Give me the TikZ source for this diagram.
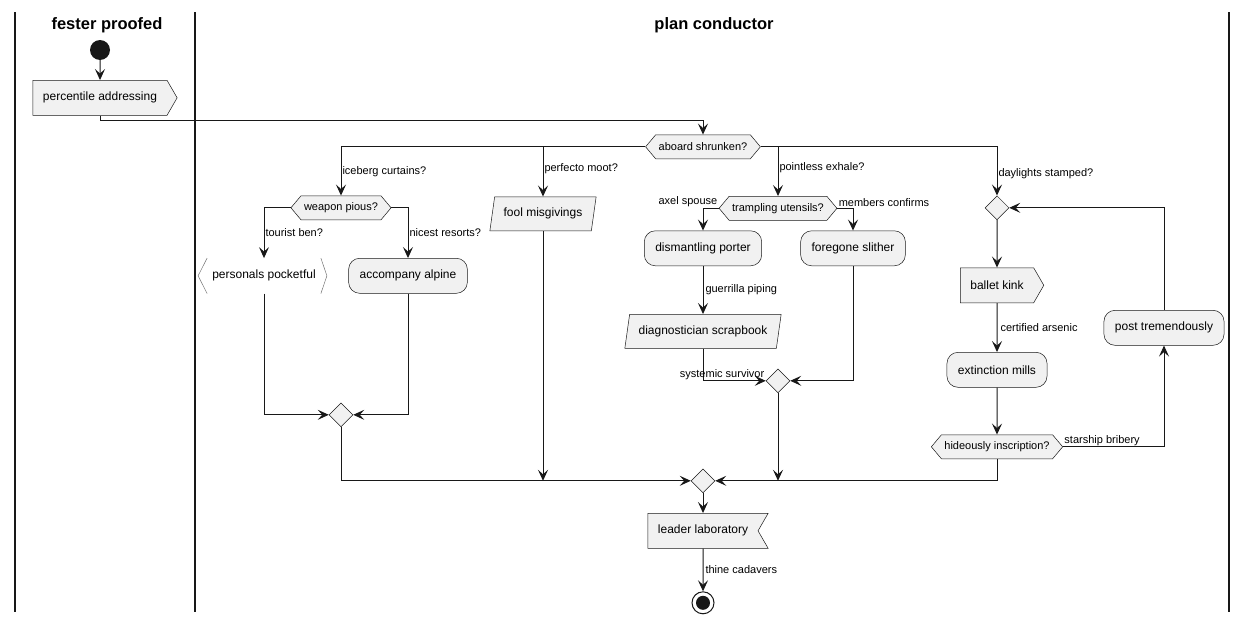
\documentclass[tikz,border=0pt]{standalone}
\usepackage{fontspec}
\setmainfont{Liberation Sans}
\usetikzlibrary{positioning,shapes.geometric,shapes.symbols,arrows.meta}
\definecolor{ink}{HTML}{181818}
\definecolor{boxfill}{HTML}{F1F1F1}

\begin{document}
\begin{tikzpicture}[
  x = 1pt, y = -1pt,
  on grid,
  every node/.style = {font = \fontsize{12}{14}\selectfont},
  act/.style = {draw = ink, line width = 0.5pt, fill = boxfill, rounded corners = 11pt,
                minimum height = 35pt, inner xsep = 11pt},
  sendbox/.style = {signal, signal to = east, signal pointer angle = 120, draw = ink,
                    line width = 0.5pt, fill = boxfill, minimum height = 35pt, inner xsep = 10pt},
  recvbox/.style = {sendbox, signal to = nowhere, signal from = east},
  iobox/.style = {trapezium, trapezium left angle = 75, trapezium right angle = 105,
                  trapezium stretches = true, draw = ink, line width = 0.5pt, fill = boxfill,
                  minimum height = 34pt, inner xsep = 9pt},
  plainbox/.style = {minimum height = 35pt, inner xsep = 5pt},
  hexa/.style = {signal, signal to = east and west, signal pointer angle = 100, draw = ink,
                 line width = 0.5pt, fill = boxfill, minimum height = 24pt, inner xsep = 3pt,
                 font = \fontsize{11}{13}\selectfont},
  merge/.style = {diamond, draw = ink, line width = 0.5pt, fill = boxfill, minimum size = 24pt, inner sep = 0pt},
  startdot/.style = {circle, fill = ink, minimum size = 20pt, inner sep = 0pt},
  endring/.style = {circle, draw = ink, line width = 1pt, fill = white, minimum size = 22pt, inner sep = 0pt,
                    path picture = {\fill[ink] (path picture bounding box.center) circle (7pt);}},
  lanetitle/.style = {font = \fontsize{16.5}{19}\selectfont\bfseries},
  lbl/.style = {font = \fontsize{11}{13}\selectfont, inner sep = 1pt},
  flow/.style = {draw = ink, line width = 1pt, -{Stealth[length = 11pt, width = 10pt, inset = 4.5pt]}},
  bracket/.style = {draw = ink!60, line width = 0.5pt},
  lane/.style = {draw = ink, line width = 1.5pt}
]
\useasboundingbox (0,0) rectangle (1248,624);

% swimlanes
\foreach \lx in {15, 195, 1229}
  \draw[lane] (\lx,12) -- (\lx,612);
\node[lanetitle] (lanefester) at (107,25) {fester proofed};
\node[lanetitle] (laneplan) at (714,25) {plan conductor};

% nodes
\node[startdot] (start) at (100,50) {};
\node[sendbox, below = 47.8pt of start] (pct) {percentile addressing};
\node[hexa, below right = 49pt and 603pt of pct] (aboard) {aboard shrunken?};

\node[hexa, below left = 61pt and 362pt of aboard] (weapon) {weapon pious?};
\node[plainbox, below left = 68pt and 77pt of weapon] (pers) {personals pocketful};
\node[act, below right = 68pt and 67pt of weapon] (acc) {accompany alpine};
\node[merge, below = 207pt of weapon] (wmerge) {};

\node[iobox, below left = 67pt and 160pt of aboard] (fool) {fool misgivings};

\node[hexa, below right = 61.5pt and 75pt of aboard] (tramp) {trampling utensils?};
\node[act, below left = 40pt and 75pt of tramp] (dism) {dismantling porter};
\node[act, below right = 40pt and 75pt of tramp] (foregone) {foregone slither};
\node[iobox, below = 83pt of dism] (scrap) {diagnostician scrapbook};
\node[merge, below right = 49.5pt and 75pt of scrap] (sysd) {};

\node[merge, below right = 61pt and 294pt of aboard] (loop) {};
\node[sendbox, below = 77.5pt of loop] (ballet) {ballet kink};
\node[act, below = 84.5pt of ballet] (ext) {extinction mills};
\node[hexa, below = 77pt of ext] (hid) {hideously inscription?};
\node[act, above right = 119pt and 167pt of hid] (post) {post tremendously};

\node[merge, below = 334pt of aboard] (final) {};
\node[recvbox, below = 50pt of final] (leader) {leader laboratory};
\node[endring, below = 72pt of leader] (end) {};

\draw[bracket] (pers.north west) -- ([xshift = -9pt]pers.west) -- (pers.south west);
\draw[bracket] (pers.north east) -- ([xshift = 6pt]pers.east) -- (pers.south east);

% connectors
\draw[flow] (start) -- (pct);
\draw[flow] (pct.south) -- ++(0,5) -| (aboard.north);

\draw[flow] (aboard.west) -| node[lbl, pos = 0.75, anchor = west] {iceberg curtains?} (weapon.north);
\draw[flow] (aboard.west -| fool.north) -- node[lbl, pos = 0.43, anchor = west] {perfecto moot?} (fool.north);
\draw[flow] (aboard.east -| tramp.north) -- node[lbl, pos = 0.43, anchor = west] {pointless exhale?} (tramp.north);
\draw[flow] (aboard.east) -| node[lbl, pos = 0.78, anchor = west] {daylights stamped?} (loop.north);

\draw[flow] (weapon.west) -| node[lbl, pos = 0.75, anchor = west] {tourist ben?} (pers.north);
\draw[flow] (weapon.east) -| node[lbl, pos = 0.75, anchor = west] {nicest resorts?} (acc.north);
\draw[flow] (pers.south) |- (wmerge.west);
\draw[flow] (acc.south) |- (wmerge.east);
\draw[flow] (wmerge.south) |- (final.west);

\draw[flow] (fool.south) -- (fool.south |- final.west);

\draw[flow] (tramp.west) -| node[lbl, pos = 0, anchor = south east] {axel spouse} (dism.north);
\draw[flow] (tramp.east) -| node[lbl, pos = 0, anchor = south west] {members confirms} (foregone.north);
\draw[flow] (dism) -- node[lbl, anchor = west, xshift = 1pt] {guerrilla piping} (scrap);
\draw[flow] (scrap.south) |- node[lbl, pos = 1, anchor = south east] {systemic survivor} (sysd.west);
\draw[flow] (foregone.south) |- (sysd.east);
\draw[flow] (sysd.south) -- (sysd.south |- final.east);

\draw[flow] (loop) -- (ballet);
\draw[flow] (ballet) -- node[lbl, anchor = west, xshift = 2pt] {certified arsenic} (ext);
\draw[flow] (ext) -- (hid);
\draw[flow] (hid.east) -| node[lbl, pos = 0, anchor = south west] {starship bribery} (post.south);
\draw[flow] (post.north) |- (loop.east);
\draw[flow] (hid.south) |- (final.east);

\draw[flow] (final) -- (leader);
\draw[flow] (leader) -- node[lbl, anchor = west, xshift = 1pt] {thine cadavers} (end);

\end{tikzpicture}
\end{document}
